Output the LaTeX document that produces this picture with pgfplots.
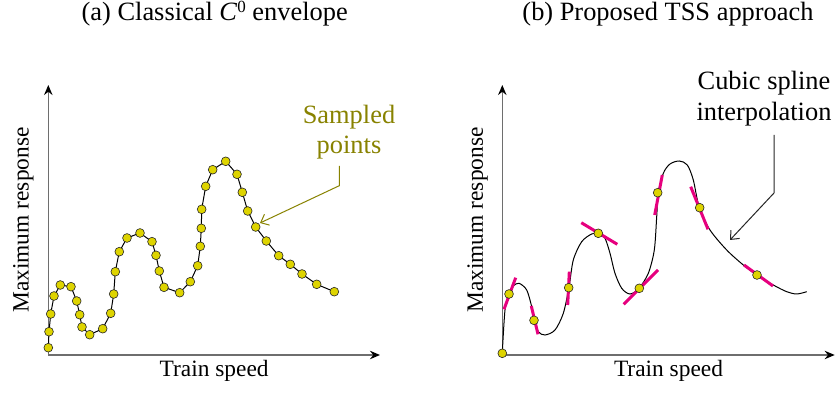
\documentclass[border=0pt]{standalone}
\usepackage{pgfplots}
\pgfplotsset{compat=1.18}
\usepackage{fontspec}
\setmainfont{Liberation Serif}
\usetikzlibrary{arrows.meta}
\definecolor{dotyellow}{RGB}{222,212,0}
\definecolor{annolive}{RGB}{136,130,0}
\definecolor{tanpink}{RGB}{230,0,126}
\definecolor{axgray}{RGB}{110,110,110}
\newcommand\labfont{\fontsize{11.7}{14}\selectfont}
\newcommand\titfont{\fontsize{13.2}{15.6}\selectfont}
\pgfplotsset{schem/.style={x=0.5pt,y=0.5pt,ymin=0,ymax=270,
  axis lines=left,xtick=\empty,ytick=\empty,clip=false,anchor=south west,
  axis line style={draw=axgray,line width=0.8pt,-{Stealth[length=5pt,width=4.2pt,black]}}},
  dots/.style={mark=*,mark size=2.2pt,mark options={fill=dotyellow,draw=black!85,line width=0.3pt}}}
\begin{document}
\begin{tikzpicture}
\path[use as bounding box] (0,0) rectangle (418pt,-197pt);
% ---------------- (a)
\begin{axis}[schem,at={(24.15pt,-177.5pt)},xmin=0,xmax=331.7]
\addplot[black,line width=0.5pt,dots] coordinates {
(0,7.3) (0.7,23.3) (2.4,41) (5.7,59) (12,70) (22.7,68.3) (28.4,54) (31.4,40.3)
(33.7,28) (41.4,20.3) (54.4,26.3) (62.4,41.7) (65.4,61) (67,83.3) (71,103.3)
(78.7,117) (91.7,122) (103.7,113.3) (107.7,99.7) (111,84) (115.7,67.7)
(131.4,62.3) (142,73.3) (149.4,89.3) (152,108.7) (153,126.7) (153.4,145.7)
(157.4,168.7) (164.4,185.3) (177.4,193.7) (188.7,180.7) (194,162.7)
(199.4,144) (207.4,128) (218,114) (230.4,99.3) (242,90.7) (253.7,81)
(268.4,70.7) (286,63.3)};
\node[anchor=base,font=\titfont] at (axis cs:166.4,334.5) {(a) Classical \textit{C}\raisebox{3.8pt}{\fontsize{8.5}{8.5}\selectfont 0} envelope};
\node[anchor=base,font=\labfont] at (axis cs:165.85,-21.7) {Train speed};
\node[anchor=base,font=\labfont,rotate=90] at (axis cs:-19.8,135) {Maximum response};
\node[anchor=base,font=\titfont,text=annolive] at (axis cs:300.7,231.7) {Sampled};
\node[anchor=base,font=\titfont,text=annolive] at (axis cs:300.7,201.7) {points};
\draw[annolive,line width=0.5pt,-{Straight Barb[length=3.5pt,width=6pt]}]
  (axis cs:291,189) -- (axis cs:291,169.3) -- (axis cs:211.7,132);
\end{axis}
% ---------------- (b)
\begin{axis}[schem,at={(251.15pt,-177.5pt)},xmin=0,xmax=332.4]
\addplot[black,line width=0.5pt,smooth,tension=0.5] coordinates {
(0,2.3) (2.7,45) (6.7,61) (11,69) (16.7,71.7) (24.4,65) (29.4,48.3) (32,35)
(36,23.3) (42.7,20) (52.7,25) (61,41.7) (66.7,67.7) (71,95) (79.4,113.3)
(89.4,121) (96.7,121.7) (102.7,116.7) (107.7,101.7) (112.7,81.7) (119.4,66.7)
(127.7,61) (136.7,66.7) (146,81.7) (152,105) (154.4,138.3) (156,162.3)
(161,181.7) (167.7,191) (177,194) (185,190) (191,175) (197,147.3) (207.7,125)
(224.4,105) (241,90) (254.4,80) (271,70) (284.4,63.3) (294.4,61) (304.4,63.3)};
\addplot[only marks,dots] coordinates {
(0,1.7) (6.7,61) (31.7,34.7) (66.4,67.3) (96,121.7) (137,66.7) (155.4,162.3)
(197.4,147.3) (254.7,80)};
\addplot[tanpink,line width=1.5pt] coordinates {(1.7,45.7) (13.4,77.3)};
\addplot[tanpink,line width=1.5pt] coordinates {(29,49) (35.7,20.7)};
\addplot[tanpink,line width=1.5pt] coordinates {(67,83.3) (65.4,50)};
\addplot[tanpink,line width=1.5pt] coordinates {(79,132.3) (115,110.7)};
\addplot[tanpink,line width=1.5pt] coordinates {(121.4,50.7) (155.7,85)};
\addplot[tanpink,line width=1.5pt] coordinates {(160,180) (152.4,140)};
\addplot[tanpink,line width=1.5pt] coordinates {(188.4,168.3) (205.7,125.7)};
\addplot[tanpink,line width=1.5pt] coordinates {(241.7,90) (270.7,69)};
\node[anchor=base,font=\titfont] at (axis cs:165.7,334.5) {(b) Proposed TSS approach};
\node[anchor=base,font=\labfont] at (axis cs:166.2,-21.7) {Train speed};
\node[anchor=base,font=\labfont,rotate=90] at (axis cs:-19.5,135) {Maximum response};
\node[anchor=base,font=\titfont] at (axis cs:261.7,265) {Cubic spline};
\node[anchor=base,font=\titfont] at (axis cs:261.7,234) {interpolation};
\draw[black!85,line width=0.5pt,-{Straight Barb[length=3.5pt,width=6pt]}]
  (axis cs:271.7,220) -- (axis cs:271.7,162) -- (axis cs:227.7,115);
\end{axis}
\end{tikzpicture}
\end{document}
